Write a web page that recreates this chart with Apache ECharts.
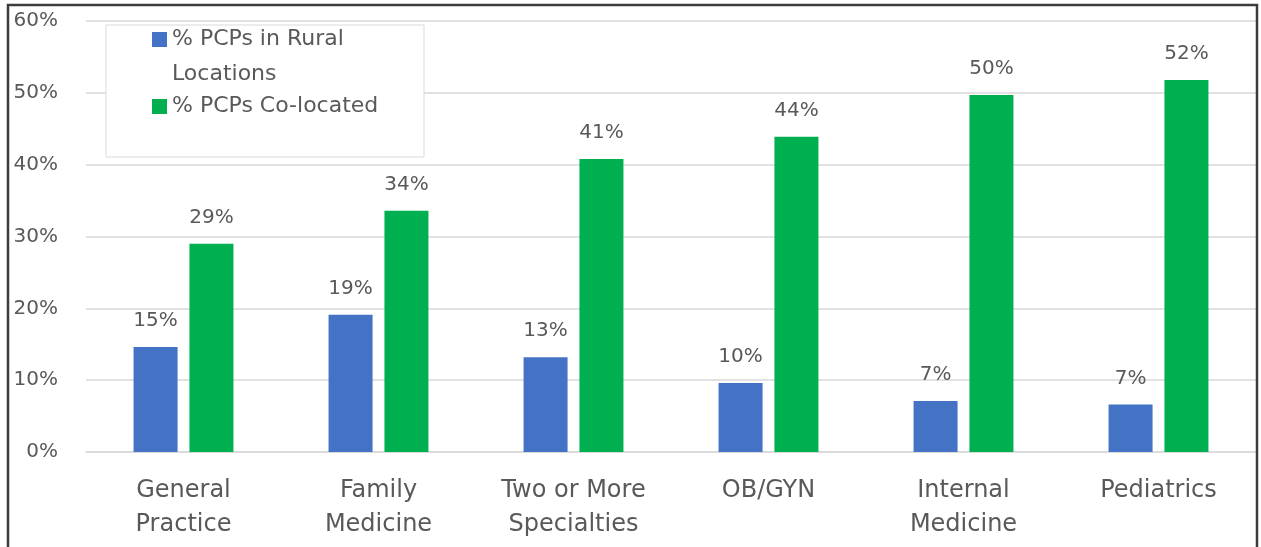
<!DOCTYPE html>
<html>
<head>
<meta charset="utf-8">
<script src="https://cdn.jsdelivr.net/npm/echarts@6/dist/echarts.min.js"></script>
<style>
html,body{margin:0;padding:0;background:#fff;}
#chart{width:1261px;height:547px;}
</style>
</head>
<body>
<div id="chart"></div>
<script>
const categories = ['General Practice', 'Family Medicine', 'Two or More Specialties', 'OB/GYN', 'Internal Medicine', 'Pediatrics'];
const xTickLabels = ['General\nPractice', 'Family\nMedicine', 'Two or More\nSpecialties', 'OB/GYN', 'Internal\nMedicine', 'Pediatrics'];
const seriesNames = ['% PCPs in Rural Locations', '% PCPs Co-located'];
const legendLabels = ['% PCPs in Rural\nLocations', '% PCPs Co-located'];
const ruralValues = [14.6, 19.1, 13.2, 9.6, 7.1, 6.6];
const colocatedValues = [29.0, 33.6, 40.8, 43.9, 49.7, 51.8];
const yTicks = [0, 10, 20, 30, 40, 50, 60];

const FONT = 'DejaVu Sans';
const TXT = '#595959';

const chart = echarts.init(document.getElementById('chart'));
const labelCfg = {
  show: true, position: 'top', distance: 16,
  fontFamily: FONT, fontSize: 20, color: TXT,
  formatter: p => Math.round(p.value) + '%'
};
chart.setOption({
  backgroundColor: '#fff',
  animation: false,
  grid: { left: 86, right: 5, top: 21, bottom: 95 },
  graphic: [
    { type: 'rect', z: 3, shape: { x: 106, y: 25, width: 318, height: 132 },
      style: { fill: '#fff', stroke: '#d9d9d9', lineWidth: 1 } },
    { type: 'rect', z: 100, shape: { x: 8, y: 5, width: 1249, height: 600 },
      style: { fill: 'none', stroke: '#3c3c3c', lineWidth: 2.5 } }
  ],
  legend: {
    orient: 'vertical', left: 152, top: -13, padding: 0, z: 10,
    itemWidth: 15, itemHeight: 15, itemGap: 3.5,
    icon: 'rect',
    formatter: name => {
      const t = legendLabels[seriesNames.indexOf(name)];
      // multi-line entry: pad with an empty top line so the first line sits beside the icon
      return t.indexOf('\n') >= 0 ? '\n' + t : t;
    },
    textStyle: { fontFamily: FONT, fontSize: 22, color: TXT },
    data: [
      { name: seriesNames[0], textStyle: { lineHeight: 35 } },
      { name: seriesNames[1], textStyle: { lineHeight: 20 } }
    ]
  },
  xAxis: {
    type: 'category', data: categories,
    axisLine: { lineStyle: { color: '#d9d9d9', width: 1.5 } },
    axisTick: { show: false },
    axisLabel: {
      fontFamily: FONT, fontSize: 24, color: TXT, lineHeight: 34, margin: 22,
      interval: 0, formatter: (v, i) => xTickLabels[i]
    }
  },
  yAxis: {
    type: 'value', min: yTicks[0], max: yTicks[yTicks.length - 1], interval: 10,
    axisLine: { show: false }, axisTick: { show: false },
    splitLine: { lineStyle: { color: '#d9d9d9', width: 1.5 } },
    axisLabel: { fontFamily: FONT, fontSize: 20, color: TXT, margin: 28, formatter: v => v + '%' }
  },
  series: [
    { name: seriesNames[0], type: 'bar', data: ruralValues, barWidth: 44, barGap: '27%',
      itemStyle: { color: '#4472C4' }, label: labelCfg },
    { name: seriesNames[1], type: 'bar', data: colocatedValues, barWidth: 44, barGap: '27%',
      itemStyle: { color: '#00B050' }, label: labelCfg }
  ]
});
</script>
</body>
</html>
